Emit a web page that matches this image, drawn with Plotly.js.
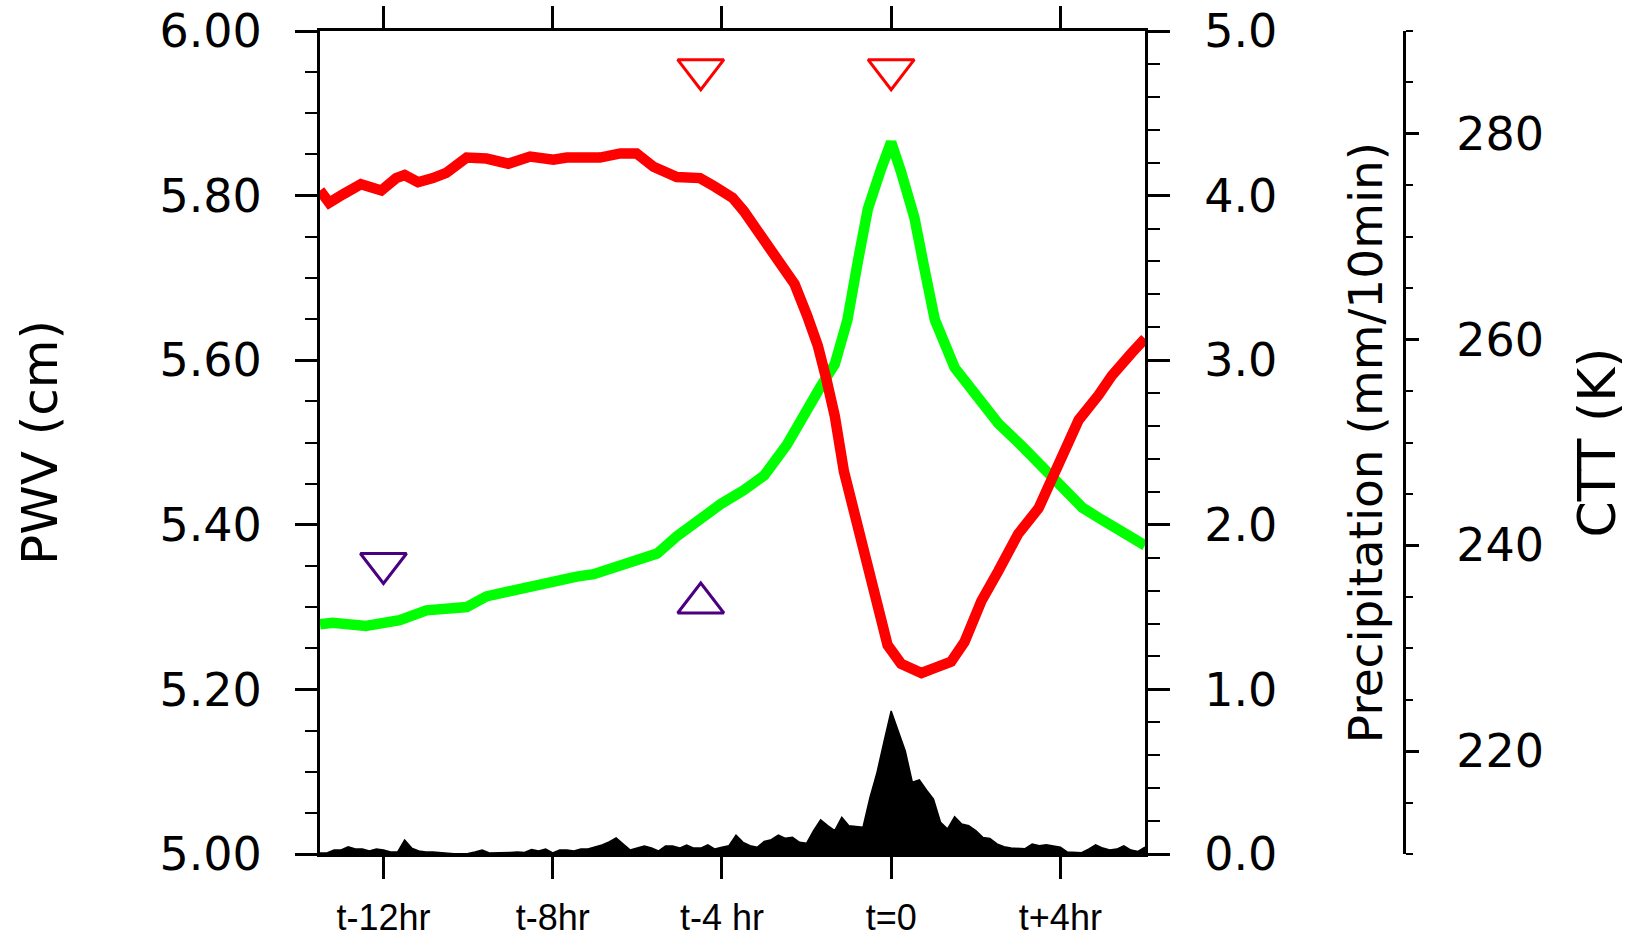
<!DOCTYPE html>
<html><head><meta charset="utf-8">
<script src="https://cdn.plot.ly/plotly-3.0.1.min.js"></script>
<style>html,body{margin:0;padding:0;background:#fff;} #chart{width:1643px;height:937px;}</style>
</head><body><div id="chart"></div>
<script>
// ---- data (time in minutes relative to t=0) ----
const cttTime = [-810,-797,-778,-752,-723,-702,-690,-671,-650,-631,-602,-574,-543,-512,-479,-460,-413,-384,-361,-337,-304,-271,-251,-225,-209,-180,-152,-137,-119,-104,-92,-80,-67,-43,-24,-5,14,43,62,85,104,128,152,180,209,227,247,266,294,313,341,360];
const cttValue = [274.5,273.3,274.1,275.1,274.5,275.7,276.0,275.3,275.7,276.2,277.7,277.6,277.1,277.8,277.5,277.7,277.7,278.1,278.1,276.8,275.8,275.7,274.9,273.8,272.5,269.7,267.0,265.4,262.3,259.4,256.2,252.6,247.2,240.7,235.3,230.3,228.5,227.6,228.1,228.7,230.6,234.6,237.5,241.1,243.6,246.3,249.3,252.2,254.6,256.5,258.7,260.1];

const pwvTime = [-810,-792,-745,-721,-697,-659,-631,-602,-574,-555,-517,-479,-446,-422,-384,-332,-304,-271,-242,-209,-180,-148,-128,-100,-80,-62,-47,-33,-14,0,14,33,47,62,90,124,152,185,227,271,299,332,360];
const pwvValue = [5.279,5.281,5.277,5.279,5.284,5.296,5.299,5.300,5.313,5.317,5.322,5.330,5.337,5.340,5.351,5.365,5.386,5.407,5.425,5.442,5.460,5.497,5.528,5.568,5.595,5.649,5.721,5.784,5.833,5.865,5.829,5.773,5.712,5.649,5.591,5.555,5.523,5.496,5.459,5.421,5.406,5.391,5.375];

const precipTime = [-810,-800,-790,-780,-770,-760,-750,-740,-730,-720,-710,-700,-690,-680,-670,-660,-650,-640,-630,-620,-610,-600,-590,-580,-570,-560,-550,-540,-530,-520,-510,-500,-490,-480,-470,-460,-450,-440,-430,-420,-410,-400,-390,-380,-370,-360,-350,-340,-330,-320,-310,-300,-290,-280,-270,-260,-250,
  -240,-230,-220,-210,-200,-190,-180,-170,-160,-150,-140,-130,-120,-110,-100,-90,-80,-70,-60,-50,-40,-30,-20,-10,0,10,20,30,40,50,60,70,80,90,100,110,120,130,140,150,160,170,180,190,200,210,220,230,240,250,260,270,280,290,300,310,320,330,340,350,360];
const precipValue = [0.006,0.006,0.024,0.024,0.043,0.030,0.030,0.018,0.030,0.024,0.012,0.012,0.085,0.036,0.018,0.012,0.012,0.009,0.003,0.002,0.002,0.003,0.012,0.024,0.006,0.006,0.009,0.009,0.012,0.009,0.027,0.018,0.030,0.006,0.024,0.024,0.018,0.030,0.030,0.043,0.055,0.073,0.097,0.061,0.024,0.036,0.049,0.036,0.018,0.049,0.049,0.036,0.055,0.036,0.036,0.055,0.030,
  0.041,0.050,0.115,0.071,0.050,0.041,0.077,0.087,0.115,0.095,0.101,0.071,0.065,0.142,0.208,0.172,0.142,0.223,0.172,0.166,0.162,0.344,0.496,0.686,0.869,0.747,0.626,0.436,0.450,0.389,0.334,0.193,0.152,0.227,0.182,0.172,0.142,0.101,0.095,0.061,0.044,0.036,0.035,0.032,0.061,0.050,0.056,0.047,0.041,0.012,0.008,0.008,0.030,0.056,0.036,0.024,0.030,0.050,0.024,0.016,0.041];

const xTickVals = [-720,-480,-240,0,240];
const xTickText = ['t-12hr','t-8hr','t-4 hr','t=0','t+4hr'];

const redMarkTime = [-270,0];
const redMarkPwv = [5.953,5.953];
const purpleDownTime = [-720];
const purpleDownPwv = [5.353];
const purpleUpTime = [-270];
const purpleUpPwv = [5.305];

// ---- layout geometry ----
const W = 1643, H = 937;
const ML = 320, MR = 0, MT = 31, MB = 83;
const plotW = W - ML - MR;
const xRight = 825 / plotW;
const cttPos = 1084 / plotW;

const numFont = {family: 'DejaVu Sans', size: 46, color: '#000'};

const traces = [
  {x: pwvTime, y: pwvValue, type: 'scatter', mode: 'lines', xaxis: 'x', yaxis: 'y',
   line: {color: '#00FF00', width: 10.5}, hoverinfo: 'skip', showlegend: false},
  {x: redMarkTime, y: redMarkPwv, type: 'scatter', mode: 'markers', xaxis: 'x', yaxis: 'y',
   marker: {symbol: 'triangle-down-open', size: 40, color: '#FF0000', line: {color: '#FF0000', width: 3}}, showlegend: false},
  {x: purpleDownTime, y: purpleDownPwv, type: 'scatter', mode: 'markers', xaxis: 'x', yaxis: 'y',
   marker: {symbol: 'triangle-down-open', size: 40, color: '#4B0082', line: {color: '#4B0082', width: 3}}, showlegend: false},
  {x: purpleUpTime, y: purpleUpPwv, type: 'scatter', mode: 'markers', xaxis: 'x', yaxis: 'y',
   marker: {symbol: 'triangle-up-open', size: 40, color: '#4B0082', line: {color: '#4B0082', width: 3}}, showlegend: false},
  {x: precipTime, y: precipValue, type: 'scatter', mode: 'lines', xaxis: 'x', yaxis: 'y2',
   fill: 'tozeroy', fillcolor: '#000', line: {color: '#000', width: 1.5}, showlegend: false},
  {x: cttTime, y: cttValue, type: 'scatter', mode: 'lines', xaxis: 'x', yaxis: 'y3',
   line: {color: '#FF0000', width: 10.5}, showlegend: false}
];

const layout = {
  width: W, height: H,
  margin: {l: ML, r: MR, t: MT, b: MB, pad: 0},
  paper_bgcolor: '#fff', plot_bgcolor: 'rgba(0,0,0,0)',
  showlegend: false,
  xaxis: {
    domain: [0, xRight], range: [-810, 360],
    tickvals: xTickVals, ticktext: xTickText,
    ticks: 'outside', ticklen: 22, tickwidth: 3, tickcolor: '#000',
    showline: true, linewidth: 3, linecolor: '#000', mirror: 'ticks',
    showgrid: false, zeroline: false,
    tickfont: {family: 'Liberation Sans', size: 36, color: '#000'},
    ticklabelstandoff: 8
  },
  yaxis: {
    range: [5, 6], tick0: 5, dtick: 0.2, tickformat: '.2f',
    ticks: 'outside', ticklen: 22, tickwidth: 3, tickcolor: '#000',
    minor: {dtick: 0.05, ticks: 'outside', ticklen: 12, tickwidth: 2, tickcolor: '#000', showgrid: false},
    showline: true, linewidth: 3, linecolor: '#000',
    showgrid: false, zeroline: false,
    tickfont: numFont, ticklabelstandoff: 24,
    title: {text: 'PWV (cm)', font: {family: 'DejaVu Sans', size: 50, color: '#000'}, standoff: 86}
  },
  yaxis2: {
    overlaying: 'y', side: 'right', anchor: 'x',
    range: [0, 5], tick0: 0, dtick: 1, tickformat: '.1f',
    ticks: 'outside', ticklen: 22, tickwidth: 3, tickcolor: '#000',
    minor: {dtick: 0.2, ticks: 'outside', ticklen: 12, tickwidth: 2, tickcolor: '#000', showgrid: false},
    showline: true, linewidth: 3, linecolor: '#000',
    showgrid: false, zeroline: false,
    tickfont: numFont, ticklabelstandoff: 25,
    title: {text: 'Precipitation (mm/10min)', font: {family: 'DejaVu Sans', size: 47, color: '#000'}, standoff: 73}
  },
  yaxis3: {
    overlaying: 'y', side: 'right', anchor: 'free', position: cttPos,
    range: [210, 290], tick0: 220, dtick: 20,
    ticks: 'outside', ticklen: 13, tickwidth: 3, tickcolor: '#000',
    minor: {dtick: 5, ticks: 'outside', ticklen: 7, tickwidth: 2, tickcolor: '#000', showgrid: false},
    showline: true, linewidth: 3, linecolor: '#000',
    showgrid: false, zeroline: false,
    tickfont: numFont, ticklabelstandoff: 28,
    title: {text: 'CTT (K)', font: {family: 'DejaVu Sans', size: 52, color: '#000'}, standoff: 35}
  }
};

Plotly.newPlot('chart', traces, layout, {displayModeBar: false, staticPlot: true});
</script>
</body></html>
